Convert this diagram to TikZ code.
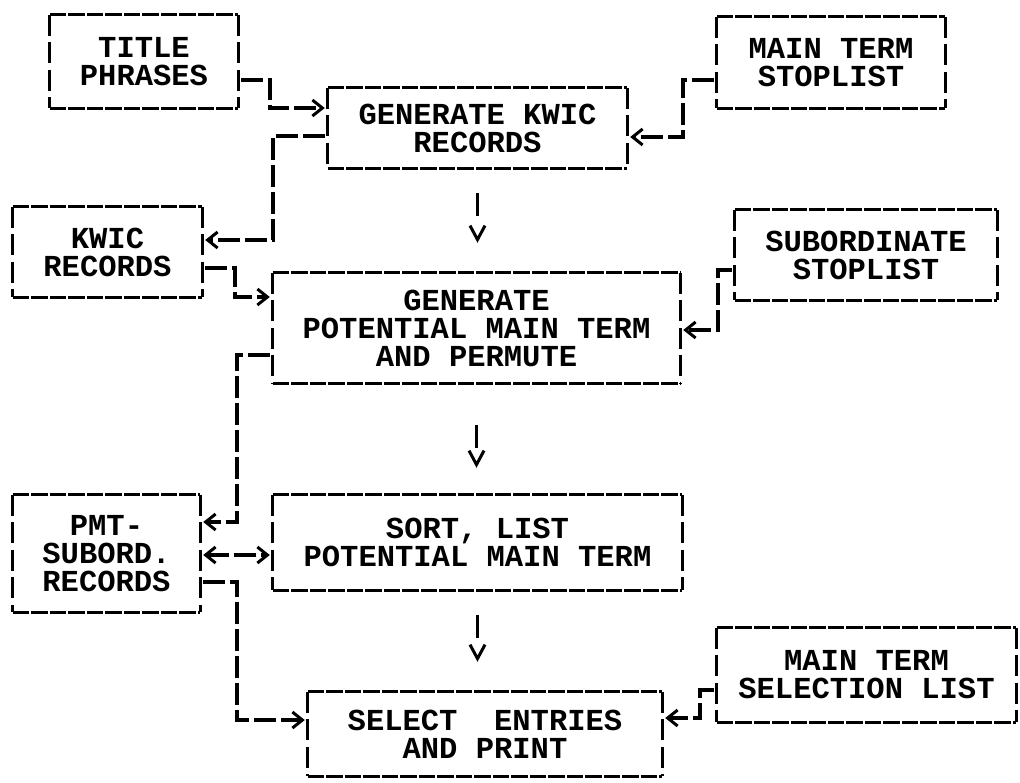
\documentclass[tikz,border=0pt]{standalone}
\usepackage{fontspec}
\newfontfamily\pf{Liberation Mono}
\usetikzlibrary{arrows.meta}
\begin{document}
\begin{tikzpicture}[x=1pt,y=-1pt,
  box/.style={rectangle, inner sep=0pt, align=center, draw=none,
    font=\pf\bfseries\fontsize{30.5}{28}\selectfont},
  hedge/.style={line width=3.2pt, dash pattern=on 16.5pt off 2pt},
  vedge/.style={line width=3.2pt, dash pattern=on 21pt off 6.5pt},
  conn/.style={line width=3.2pt, dash pattern=on 22pt off 5pt,
    shorten <=3pt, shorten >=3pt},
  tip/.style={-{Straight Barb[length=10pt,width=16pt,line width=3pt]}},
  dtip/.style={{Straight Barb[length=10pt,width=16pt,line width=3pt]}-{Straight Barb[length=10pt,width=16pt,line width=3pt]}},
  down/.style={line width=3.2pt, dash pattern=on 23pt off 200pt,
    -{Straight Barb[length=14pt,width=15pt,line width=3pt]}}
]
\fill[white] (0,0) rectangle (1020,782);
\useasboundingbox (0,0) rectangle (1020,782);

% boxes
\node[box, minimum width=188pt, minimum height=93pt] (A) at (144,61.5) {TITLE\\PHRASES};
\node[box, minimum width=228pt, minimum height=91pt] (MTS) at (831,62.5) {MAIN TERM\\STOPLIST};
\node[box, minimum width=299pt, minimum height=80pt] (B) at (477.5,128) {GENERATE KWIC\\RECORDS};
\node[box, minimum width=189pt, minimum height=90pt] (KW) at (107.5,252) {KWIC\\RECORDS};
\node[box, minimum width=262pt, minimum height=90pt] (SS) at (866,255) {SUBORDINATE\\STOPLIST};
\node[box, minimum width=407pt, minimum height=110pt] (C) at (476.5,328) {GENERATE\\POTENTIAL MAIN TERM\\AND PERMUTE};
\node[box, minimum width=187pt, minimum height=117pt] (PMT) at (106.5,553.5) {PMT-\\SUBORD.\\RECORDS};
\node[box, minimum width=409pt, minimum height=95pt] (S) at (477.5,542.5) {SORT, LIST\\POTENTIAL MAIN TERM};
\node[box, minimum width=299pt, minimum height=94pt] (MTSL) at (866.5,675) {MAIN TERM\\SELECTION LIST};
\node[box, minimum width=354pt, minimum height=84pt] (E) at (485,734) {SELECT\ \ ENTRIES\\AND PRINT};

\foreach \n in {A,MTS,B,KW,SS,C,PMT,S,MTSL,E}{
  \draw[hedge] (\n.north west) -- (\n.north east);
  \draw[hedge] (\n.south west) -- (\n.south east);
  \draw[vedge] (\n.north west) -- (\n.south west);
  \draw[vedge] (\n.north east) -- (\n.south east);
}

% bend points
\coordinate (k1) at (270,80);  \coordinate (k1b) at (270,108);
\coordinate (k2) at (683,80);  \coordinate (k2b) at (683,137);
\coordinate (k3) at (273,136); \coordinate (k3b) at (273,240);
\coordinate (k5) at (235,268); \coordinate (k5b) at (235,297);
\coordinate (k6) at (718,270); \coordinate (k6b) at (718,330);
\coordinate (k7) at (237,355); \coordinate (k7b) at (237,522);
\coordinate (k9) at (237,555);
\coordinate (k10) at (237,582); \coordinate (k10b) at (237,720);
\coordinate (k12) at (700,690); \coordinate (k12b) at (700,718);

% connectors
\draw[conn,tip] (A.east|-k1) -- (k1) -- (k1b) -- (B.west|-k1b);
\draw[conn,tip] (MTS.west|-k2) -- (k2) -- (k2b) -- (B.east|-k2b);
\draw[conn,tip] (B.west|-k3) -- (k3) -- (k3b) -- (KW.east|-k3b);
\draw[conn,tip] (KW.east|-k5) -- (k5) -- (k5b) -- (C.west|-k5b);
\draw[conn,tip] (SS.west|-k6) -- (k6) -- (k6b) -- (C.east|-k6b);
\draw[conn,tip] (C.west|-k7) -- (k7) -- (k7b) -- (PMT.east|-k7b);
\draw[conn,dtip] (PMT.east|-k9) -- (S.west|-k9);
\draw[conn,tip] (PMT.east|-k10) -- (k10) -- (k10b) -- (E.west|-k10b);
\draw[conn,tip] (MTSL.west|-k12) -- (k12) -- (k12b) -- (E.east|-k12b);

% down arrows
\draw[down, shorten <=25pt, shorten >=30pt] (B.south) -- (B.south|-C.north);
\draw[down, shorten <=42pt, shorten >=27pt] (C.south) -- (C.south|-S.north);
\draw[down, shorten <=25pt, shorten >=30pt] (S.south) -- (S.south|-E.north);
\end{tikzpicture}
\end{document}
